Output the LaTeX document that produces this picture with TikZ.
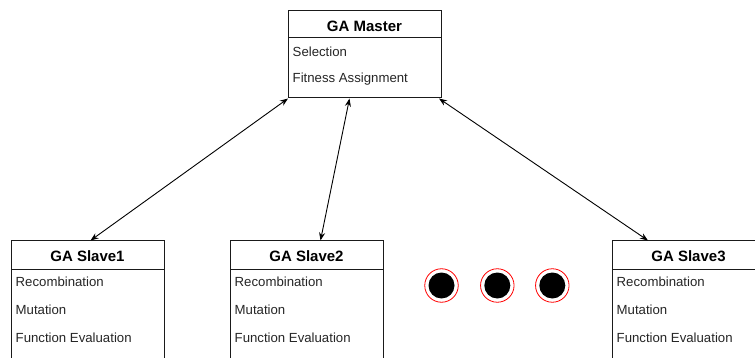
\documentclass[tikz,border=0pt]{standalone}
\usepackage{fontspec}
\setmainfont{Liberation Sans}
\usetikzlibrary{arrows.meta}
\definecolor{boxline}{HTML}{1A1A1A}
\definecolor{bodytext}{HTML}{262626}
\tikzset{
  classbox/.style={draw=boxline, line width=1pt, rectangle, anchor=north west,
    minimum width=153pt, inner sep=0pt},
  title/.style={font=\fontsize{15}{17}\selectfont\bfseries, anchor=center, inner sep=0pt},
  item/.style={font=\fontsize{13.2}{15}\selectfont, text=bodytext, anchor=west, inner sep=0pt},
  link/.style={line width=0.9pt, {Stealth[length=8pt,width=6pt]}-{Stealth[length=8pt,width=6pt]}},
  dot/.style={circle, fill=black, minimum size=26pt, inner sep=0pt},
  ring/.style={circle, draw=red, line width=0.8pt, minimum size=33.5pt, inner sep=0pt}
}
\begin{document}
\begin{tikzpicture}[x=1pt, y=-1pt]
\clip (0,0) rectangle (755,358);
\fill[white] (0,0) rectangle (755,358);

% master class box
\node[classbox, minimum height=87pt] (m) at (288,10.5) {};
\draw[boxline, line width=1pt] ([yshift=-27.5pt]m.north west) -- ([yshift=-27.5pt]m.north east);
\node[title] (mt) at (364.5,26.5) {GA Master};
\node[item] (m1) at (292.5,51.5) {Selection};
\node[item] (m2) at (292.5,79.5) {Fitness Assignment};

% slave class boxes (run past the lower edge)
\foreach \name/\x/\lbl in {s1/11/GA Slave1, s2/230/GA Slave2, s3/612/GA Slave3}{
  \node[classbox, minimum height=140pt] (\name) at (\x,240.5) {};
  \draw[boxline, line width=1pt] ([yshift=-28.5pt]\name.north west) -- ([yshift=-28.5pt]\name.north east);
  \node[title] (\name t) at (\x+76.5,256.5) {\lbl};
  \node[item] (\name a) at (\x+4.5,281.5) {Recombination};
  \node[item] (\name b) at (\x+4.5,309.5) {Mutation};
  \node[item] (\name c) at (\x+4.5,337.5) {Function Evaluation};
}

% ellipsis markers
\foreach \name/\x in {d1/441.5, d2/497.3, d3/552.3}{
  \node[ring] (\name r) at (\x,285.5) {};
  \node[dot] (\name) at (\x,285.5) {};
}

% master <-> slave links
\draw[link] (m.south west) -- ([xshift=2.5pt]s1.north);
\draw[link] ([xshift=-15.5pt]m.south) -- ([xshift=13.5pt]s2.north);
\draw[link] ([xshift=-3pt]m.south east) -- ([xshift=36pt]s3.north west);
\end{tikzpicture}
\end{document}
